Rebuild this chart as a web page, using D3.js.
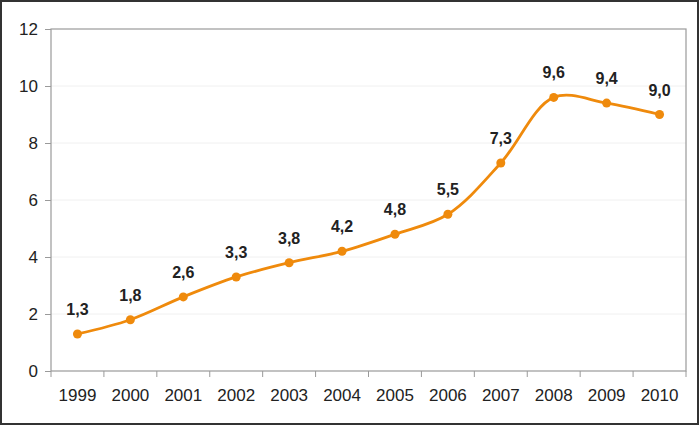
<!DOCTYPE html>
<html><head><meta charset="utf-8">
<script src="https://cdn.jsdelivr.net/npm/d3@7"></script>
<style>body{margin:0;background:#fff}svg{display:block}</style>
</head><body>
<svg id="c" width="700" height="426"></svg>
<script>
const years = ["1999","2000","2001","2002","2003","2004","2005","2006","2007","2008","2009","2010"];
const values = [1.3,1.8,2.6,3.3,3.8,4.2,4.8,5.5,7.3,9.6,9.4,9.0];
const valueLabels = ["1,3","1,8","2,6","3,3","3,8","4,2","4,8","5,5","7,3","9,6","9,4","9,0"];
const yTicks = [0,2,4,6,8,10,12];

const FONT = "'Liberation Sans', Arial, sans-serif";
const svg = d3.select("#c");
const L=51, R=686, T=29, B=371;
svg.append("rect").attr("x",1).attr("y",1).attr("width",697).attr("height",423)
  .attr("fill","#fff").attr("stroke","#333").attr("stroke-width",2);

const x = d3.scaleBand().domain(years).range([L,R]);
const y = d3.scaleLinear().domain([0,12]).range([B,T]);

// gridlines
svg.append("g").selectAll("line").data(yTicks.filter(d=>d>0&&d<12)).join("line")
  .attr("x1",L).attr("x2",R).attr("y1",d=>y(d)).attr("y2",d=>y(d))
  .attr("stroke","#f0f0f0").attr("stroke-width",1);

// plot border
svg.append("rect").attr("x",L).attr("y",T).attr("width",R-L).attr("height",B-T)
  .attr("fill","none").attr("stroke","#9a9a9a").attr("stroke-width",1.2);

// y axis
const ya = svg.append("g").attr("transform",`translate(${L},0)`)
  .call(d3.axisLeft(y).tickValues(yTicks).tickSize(6).tickPadding(7).tickFormat(d3.format("d")));
ya.select(".domain").remove();
ya.selectAll("line").attr("stroke","#9a9a9a");
ya.selectAll("text").attr("font-family",FONT).attr("font-size",17).attr("fill","#222");

// x axis
const xa = svg.append("g").attr("transform",`translate(0,${B})`)
  .call(d3.axisBottom(x).tickSize(0).tickPadding(18));
xa.select(".domain").remove();
xa.selectAll("text").attr("font-family",FONT).attr("font-size",17).attr("fill","#222");
svg.append("g").selectAll("line").data(years.concat(["end"])).join("line")
  .attr("x1",(d,i)=>L+i*x.bandwidth()).attr("x2",(d,i)=>L+i*x.bandwidth())
  .attr("y1",B).attr("y2",B+6).attr("stroke","#9a9a9a");

const cx = d=>x(d)+x.bandwidth()/2;
const pts = years.map((d,i)=>[cx(d), y(values[i])]);
svg.append("path").attr("d", d3.line().curve(d3.curveCatmullRom.alpha(0.5))(pts))
  .attr("fill","none").attr("stroke","#ef8a0c").attr("stroke-width",2.8);
svg.append("g").selectAll("circle").data(pts).join("circle")
  .attr("cx",d=>d[0]).attr("cy",d=>d[1]).attr("r",4.5).attr("fill","#ef8a0c");
svg.append("g").selectAll("text").data(years).join("text")
  .attr("x",d=>cx(d)).attr("y",(d,i)=>y(values[i])-19)
  .attr("text-anchor","middle").attr("font-family",FONT)
  .attr("font-weight","bold").attr("font-size",16).attr("fill","#222")
  .text((d,i)=>valueLabels[i]);
</script>
</body></html>
